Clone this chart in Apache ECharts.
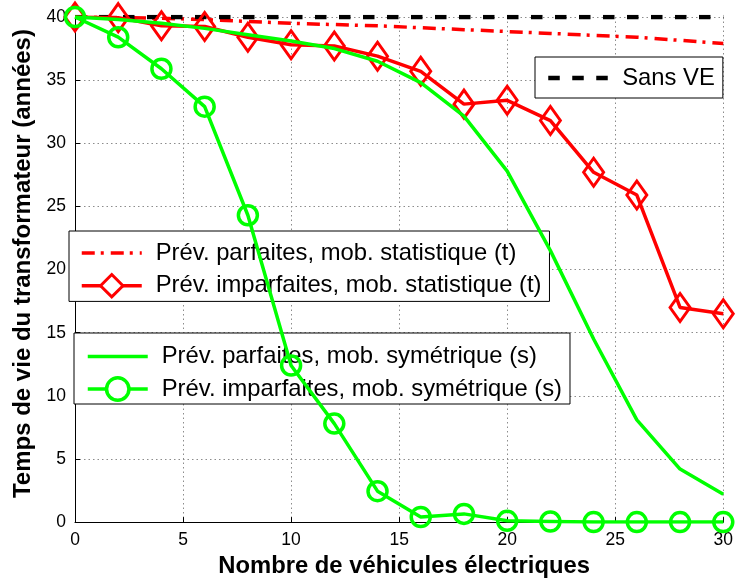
<!DOCTYPE html>
<html>
<head>
<meta charset="utf-8">
<script src="https://cdn.jsdelivr.net/npm/echarts@6/dist/echarts.min.js"></script>
<style>html,body{margin:0;padding:0;background:#fff}#c{width:736px;height:583px}</style>
</head>
<body>
<div id="c"></div>
<script>
var xs = [0, 2, 4, 6, 8, 10, 12, 14, 16, 18, 20, 22, 24, 26, 28, 30];
var sansVE = [40, 40, 40, 40, 40, 40, 40, 40, 40, 40, 40, 40, 40, 40, 40, 40];
var parfStat = [40, 39.95, 39.9, 39.8, 39.65, 39.5, 39.4, 39.3, 39.15, 39.0, 38.85, 38.7, 38.55, 38.4, 38.15, 37.9];
var imparfStat = [40, 39.95, 39.3, 39.25, 38.4, 37.8, 37.7, 36.9, 35.7, 33.1, 33.4, 31.8, 27.7, 25.9, 17.0, 16.5];
var parfSym = [40, 39.8, 39.5, 39.1, 38.6, 38.1, 37.5, 36.5, 34.8, 32.15, 27.8, 21.5, 14.5, 8.1, 4.2, 2.2];
var imparfSym = [40, 38.4, 35.9, 32.9, 24.3, 12.4, 7.8, 2.45, 0.4, 0.65, 0.1, 0.05, 0, 0, 0, 0];
var names = [
  'Sans VE',
  'Prév. parfaites, mob. statistique (t)',
  'Prév. imparfaites, mob. statistique (t)',
  'Prév. parfaites, mob. symétrique (s)',
  'Prév. imparfaites, mob. symétrique (s)'
];
var xTicks = [0, 5, 10, 15, 20, 25, 30];
var yTicks = [0, 5, 10, 15, 20, 25, 30, 35, 40];

function pairs(v) { return xs.map(function (x, i) { return [x, v[i]]; }); }

var FONT = 'Liberation Sans, Arial, Helvetica, sans-serif';
var RED = '#ff0000', GREEN = '#00ff00', BLACK = '#000000';
var styles = [
  {line: {color: BLACK, width: 4.5, type: [11.5, 12.5]}},
  {line: {color: RED, width: 3.5, type: [13, 6, 3, 7]}},
  {line: {color: RED, width: 3.5, type: 'solid'}},
  {line: {color: GREEN, width: 3.5, type: 'solid'}},
  {line: {color: GREEN, width: 3.5, type: 'solid'}}
];
var hiddenSym = {color: 'rgba(0,0,0,0)', borderWidth: 0, opacity: 0};
function legendItem(i, symStyle) {
  return {name: names[i], lineStyle: styles[i].line, itemStyle: symStyle};
}

var chart = echarts.init(document.getElementById('c'), null, {renderer: 'canvas'});
var gridLine = {show: true, lineStyle: {color: '#8c8c8c', type: [1.5, 3], width: 1}};
var legendCommon = {
  orient: 'vertical', backgroundColor: '#fff', borderColor: '#000', borderWidth: 1,
  borderRadius: 0, itemWidth: 60, itemHeight: 28, itemGap: 8,
  textStyle: {fontFamily: FONT, fontSize: 23.8, color: '#000', padding: [0, 0, 0, 9]},
  selectedMode: false
};
chart.setOption({
  animation: false,
  backgroundColor: '#fff',
  textStyle: {fontFamily: FONT},
  grid: {left: 75, right: 9, top: 17, bottom: 58, containLabel: false},
  xAxis: {
    type: 'value', min: 0, max: 30, interval: 5,
    name: 'Nombre de véhicules électriques', nameLocation: 'middle', nameGap: 30,
    nameTextStyle: {fontFamily: FONT, fontSize: 23.8, fontWeight: 'bold', color: '#000', padding: [0, 0, 0, 10]},
    axisLine: {show: true, lineStyle: {color: '#000', width: 1}},
    axisTick: {show: true, inside: true, length: 5, lineStyle: {color: '#000'}},
    axisLabel: {fontFamily: FONT, fontSize: 17.5, color: '#000', margin: 9,
      formatter: function (v) { return xTicks.indexOf(v) >= 0 ? String(v) : ''; }},
    splitLine: gridLine
  },
  yAxis: {
    type: 'value', min: 0, max: 40, interval: 5,
    name: 'Temps de vie du transformateur (années)', nameLocation: 'middle', nameGap: 40,
    nameTextStyle: {fontFamily: FONT, fontSize: 24, fontWeight: 'bold', color: '#000', padding: [0, 0, 0, 12]},
    axisLine: {show: true, lineStyle: {color: '#000', width: 1}},
    axisTick: {show: true, inside: true, length: 5, lineStyle: {color: '#000'}},
    axisLabel: {fontFamily: FONT, fontSize: 17.5, color: '#000', margin: 9,
      formatter: function (v) { return yTicks.indexOf(v) >= 0 ? String(v) : ''; }},
    splitLine: gridLine
  },
  legend: [
    Object.assign({}, legendCommon, {data: [legendItem(0, hiddenSym)], left: 535, top: 57, padding: [9, 8, 8, 11]}),
    Object.assign({}, legendCommon, {data: [legendItem(1, hiddenSym), legendItem(2, {color: '#fff', borderColor: RED, borderWidth: 3})], left: 69, top: 231, itemGap: 8, padding: [10, 8, 3, 11]}),
    Object.assign({}, legendCommon, {data: [legendItem(3, hiddenSym), legendItem(4, {color: '#fff', borderColor: GREEN, borderWidth: 3.5})], left: 74, top: 333, itemGap: 7.6, padding: [11.5, 8, 2, 12]})
  ],
  series: [
    {name: names[0], type: 'line', data: pairs(sansVE), symbol: 'none', z: 3,
      lineStyle: styles[0].line, itemStyle: {color: BLACK}},
    {name: names[1], type: 'line', data: pairs(parfStat), symbol: 'none', z: 2,
      lineStyle: styles[1].line, itemStyle: {color: RED}},
    {name: names[2], type: 'line', data: pairs(imparfStat), symbol: 'diamond', symbolSize: [20, 28], z: 3,
      lineStyle: styles[2].line, itemStyle: {color: 'rgba(255,255,255,0)', borderColor: RED, borderWidth: 3}},
    {name: names[3], type: 'line', data: pairs(parfSym), symbol: 'none', z: 4,
      lineStyle: styles[3].line, itemStyle: {color: GREEN}},
    {name: names[4], type: 'line', data: pairs(imparfSym), symbol: 'circle', symbolSize: 19, z: 5,
      lineStyle: styles[4].line, itemStyle: {color: 'rgba(255,255,255,0)', borderColor: GREEN, borderWidth: 3.5}}
  ]
});
</script>
</body>
</html>
